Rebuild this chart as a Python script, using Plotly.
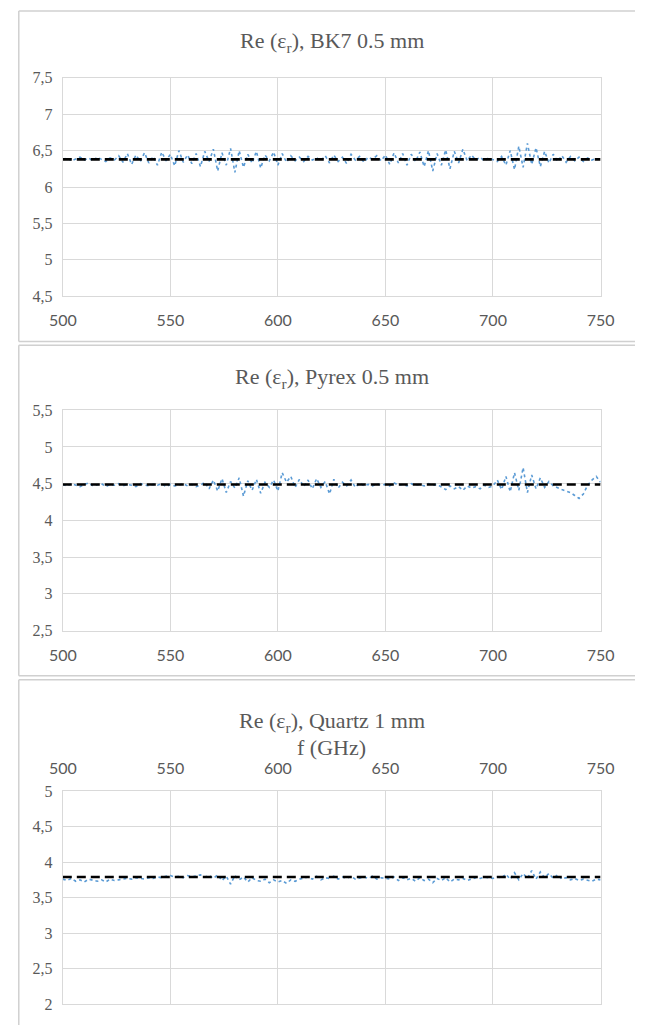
import plotly.graph_objects as go

# ---------------- data ----------------
freq = list(range(500, 751, 2))  # GHz

bk7 = [6.38,6.40,6.36,6.39,6.41,6.37,6.40,6.36,6.41,6.38,6.35,6.40,6.37,
       6.43,6.34,6.46,6.31,6.44,6.35,6.47,6.33,6.42,6.30,6.48,6.36,6.45,6.29,6.50,6.34,6.44,
       6.32,6.46,6.28,6.49,6.35,6.52,6.22,6.47,6.30,6.53,6.20,6.50,6.27,6.45,6.33,6.49,6.26,6.44,6.36,6.48,
       6.30,6.46,6.34,6.43,6.36,6.41,6.35,6.42,6.37,6.40,
       6.36,6.43,6.33,6.44,6.35,6.41,6.32,6.45,6.37,6.42,6.34,6.41,6.38,6.43,6.36,
       6.44,6.31,6.47,6.33,6.46,6.30,6.45,6.35,
       6.48,6.28,6.50,6.22,6.46,6.30,6.51,6.25,6.49,6.33,6.52,6.36,6.44,
       6.37,6.41,6.36,6.40,6.38,6.35,6.42,
       6.30,6.50,6.24,6.56,6.27,6.60,6.31,6.54,6.28,6.49,6.33,
       6.45,6.35,6.43,6.34,6.42,6.36,6.41,6.35,6.40,6.37,6.39,6.38]

pyrex = [4.49,4.47,4.50,4.48,4.46,4.49,4.51,4.47,4.48,4.50,4.46,4.49,4.48,4.50,4.47,4.49,4.48,
         4.46,4.50,4.48,4.47,4.49,4.48,4.50,4.46,4.49,4.47,4.48,4.50,4.47,4.49,4.46,4.48,
         4.52,4.43,4.55,4.40,4.57,4.38,4.53,4.44,4.58,4.33,4.54,4.41,4.56,4.37,4.52,4.45,4.55,4.40,
         4.65,4.52,4.60,4.45,4.56,
         4.46,4.55,4.43,4.57,4.45,4.53,4.36,4.56,4.44,4.52,4.47,4.55,4.45,4.51,4.47,
         4.49,4.47,4.50,4.48,4.49,4.47,4.51,4.48,4.49,4.47,4.50,4.48,4.49,4.47,4.50,4.48,4.49,
         4.45,4.42,4.47,4.43,4.46,4.41,4.47,4.44,4.46,4.43,4.48,4.45,4.47,
         4.55,4.42,4.60,4.39,4.65,4.41,4.72,4.38,4.62,4.43,4.58,4.45,4.53,
         4.47,4.44,4.42,4.40,4.38,4.34,4.30,4.36,
         4.48,4.55,4.60,4.52]

quartz = [3.76,3.74,3.77,3.73,3.75,3.72,3.76,3.74,3.73,3.75,3.72,3.76,3.74,3.75,3.76,
          3.77,3.76,3.78,3.77,3.76,3.78,3.77,3.79,3.78,3.80,
          3.81,3.79,3.80,3.78,3.81,3.79,3.80,3.82,3.79,3.81,
          3.77,3.82,3.74,3.80,3.69,3.81,3.75,3.79,3.72,3.78,3.74,
          3.73,3.76,3.71,3.75,3.72,3.74,3.70,3.75,3.73,3.76,
          3.77,3.79,3.76,3.80,3.75,3.78,3.77,3.80,3.76,3.79,3.77,3.80,3.76,3.78,3.79,3.77,3.80,3.76,3.78,3.77,
          3.76,3.79,3.74,3.78,3.75,3.77,3.73,3.78,3.74,3.76,3.71,3.77,3.74,3.78,3.72,3.76,3.75,3.77,3.74,3.76,
          3.78,3.77,3.79,3.78,3.77,3.79,3.78,
          3.83,3.76,3.85,3.75,3.84,3.77,3.88,3.76,3.86,3.78,3.84,3.77,3.82,
          3.76,3.78,3.75,3.77,3.74,3.76,3.75,3.73,3.76,3.75]

fit_means = [6.38, 4.49, 3.79]
fit_x = [500, 750]

titles = ["Re (ε<sub>r</sub>), BK7 0.5 mm",
          "Re (ε<sub>r</sub>), Pyrex 0.5 mm",
          "Re (ε<sub>r</sub>), Quartz 1 mm"]
x_axis_title = "f (GHz)"
y_ranges = [[4.5, 7.5], [2.5, 5.5], [2.0, 5.0]]
x_ticks = [500, 550, 600, 650, 700, 750]

# ---------------- layout ----------------
W, H = 649, 1034
def py(px):
    return 1 - px / H

x_dom = [51 / W, 613 / W]
y_doms = [[py(293), py(71)], [py(633), py(409)], [py(1013), py(796)]]
frames = [(3, 339), (343, 679), (683, None)]
title_y = [35, 376, 726]
xtitle_y = 752

grid_c = "#d9d9d9"
txt_c = "#595959"
frame_c = "#d0d0d0"
serif = "Liberation Serif, Times New Roman, serif"

fig = go.Figure()
series = [bk7, pyrex, quartz]
for i in range(3):
    xa = "x" if i == 0 else f"x{i+1}"
    ya = "y" if i == 0 else f"y{i+1}"
    fig.add_trace(go.Scatter(x=freq, y=series[i], mode="lines", xaxis=xa, yaxis=ya,
                             line=dict(color="#5B9BD5", width=1.6, dash="dot"),
                             showlegend=False))
    fig.add_trace(go.Scatter(x=fit_x, y=[fit_means[i]] * 2, mode="lines", xaxis=xa, yaxis=ya,
                             line=dict(color="#000000", width=2.6, dash="9px,5px"),
                             showlegend=False))

    xk = "xaxis" if i == 0 else f"xaxis{i+1}"
    yk = "yaxis" if i == 0 else f"yaxis{i+1}"
    fig.layout[xk] = dict(domain=x_dom, range=[500, 750], anchor=ya,
                          tickvals=x_ticks, showgrid=True, gridcolor=grid_c, gridwidth=1,
                          showline=True, linecolor=grid_c, mirror=True, zeroline=False,
                          side="top" if i == 2 else "bottom",
                          ticks="", ticklabelstandoff=10,
                          tickfont=dict(family="Lato, Open Sans, sans-serif", size=16, color=txt_c))
    fig.layout[yk] = dict(domain=y_doms[i], range=y_ranges[i], anchor=xa, dtick=0.5,
                          showgrid=True, gridcolor=grid_c, gridwidth=1,
                          showline=True, linecolor=grid_c, mirror=True, zeroline=False,
                          ticks="", ticklabelstandoff=6,
                          tickfont=dict(family=serif, size=16, color=txt_c))

    fig.add_annotation(x=(x_dom[0] + x_dom[1]) / 2, y=py(title_y[i]), xref="paper", yref="paper",
                       text=titles[i], showarrow=False, xanchor="center", yanchor="middle",
                       font=dict(family=serif, size=22, color=txt_c))

    # panel frame (open to the right / bottom where the reference crops it)
    t, b = frames[i]
    x0 = 5 / W
    yt = py(t)
    yb = py(b) if b is not None else 0.0
    fig.add_shape(type="line", xref="paper", yref="paper", x0=x0, x1=1.0, y0=yt, y1=yt,
                  line=dict(color=frame_c, width=1.5), layer="below")
    fig.add_shape(type="line", xref="paper", yref="paper", x0=x0, x1=x0, y0=yb, y1=yt,
                  line=dict(color=frame_c, width=1.5), layer="below")
    if b is not None:
        fig.add_shape(type="line", xref="paper", yref="paper", x0=x0, x1=1.0, y0=yb, y1=yb,
                      line=dict(color=frame_c, width=1.5), layer="below")

# x-axis title of the bottom chart (shown above its top axis, as in the reference)
fig.add_annotation(x=(x_dom[0] + x_dom[1]) / 2, y=py(xtitle_y), xref="paper", yref="paper",
                   text=x_axis_title, showarrow=False, xanchor="center", yanchor="middle",
                   font=dict(family=serif, size=22, color=txt_c))

fig.update_layout(width=W, height=H, margin=dict(l=0, r=0, t=0, b=0),
                  paper_bgcolor="white", plot_bgcolor="white", separators=", ")

fig.write_html("out.html", config={"displayModeBar": False},
               post_script="document.body.style.margin='0';document.body.style.overflow='hidden';")
